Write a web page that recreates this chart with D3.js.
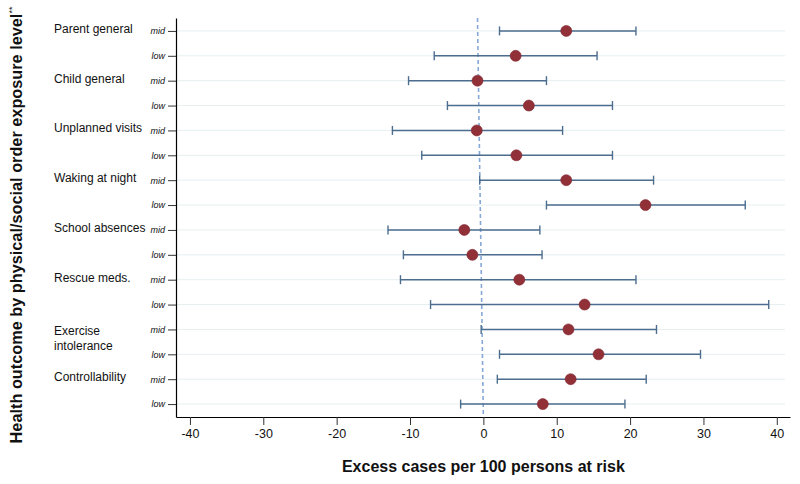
<!DOCTYPE html>
<html>
<head>
<meta charset="utf-8">
<script src="https://cdn.jsdelivr.net/npm/d3@7"></script>
<style>
  body { margin: 0; background: #fff; }
  svg { display: block; font-family: "Liberation Sans", Arial, sans-serif; }
</style>
</head>
<body>
<svg id="chart" width="800" height="484"></svg>
<script>
// ---- data ----
const outcomes = ["Parent general", "Child general", "Unplanned visits", "Waking at night",
                  "School absences", "Rescue meds.", "Exercise intolerance", "Controllability"];
const levels = ["mid", "low"];
const estimates = [11.3, 4.4, -0.8, 6.2, -0.9, 4.5, 11.3, 22.1, -2.6, -1.5, 4.9, 13.8, 11.6, 15.7, 11.9, 8.1];
const lowerCI   = [2.2, -6.7, -10.2, -4.9, -12.4, -8.4, -0.5, 8.6, -13.0, -10.9, -11.3, -7.2, -0.3, 2.2, 1.9, -3.1];
const upperCI   = [20.8, 15.5, 8.6, 17.6, 10.8, 17.6, 23.2, 35.7, 7.7, 8.0, 20.8, 38.9, 23.6, 29.6, 22.2, 19.3];
const xTicks = [-40, -30, -20, -10, 0, 10, 20, 30, 40];
const refLine = [-0.8, 0]; // reference line value at top and bottom of plot
const xDomain = [-41.9, 41.8];

// ---- layout ----
const svg = d3.select("#chart");
const mLeft = 176, mRight = 790, mTop = 18, mBottom = 417;

const rows = [];
outcomes.forEach((o, i) => levels.forEach((l, j) => rows.push({
  id: i * 2 + j, outcome: o, level: l,
  est: estimates[i * 2 + j], lo: lowerCI[i * 2 + j], hi: upperCI[i * 2 + j]
})));

const x = d3.scaleLinear().domain(xDomain).range([mLeft, mRight]);
const y = d3.scalePoint().domain(rows.map(r => r.id)).range([mTop, mBottom]).padding(0.52);

// gridlines
svg.append("g").selectAll("line").data(rows).join("line")
  .attr("x1", mLeft).attr("x2", mRight - 5)
  .attr("y1", d => y(d.id)).attr("y2", d => y(d.id))
  .attr("stroke", "#e6eff1").attr("stroke-width", 1);

// reference line (dashed)
svg.append("line")
  .attr("x1", x(refLine[0])).attr("x2", x(refLine[1]))
  .attr("y1", mTop).attr("y2", mBottom)
  .attr("stroke", "#86a8d6").attr("stroke-width", 1.6)
  .attr("stroke-dasharray", "4,3");

// x axis
const xAxis = svg.append("g").attr("transform", `translate(0,${mBottom})`)
  .call(d3.axisBottom(x).tickValues(xTicks).tickFormat(d => String(d))
    .tickSize(8).tickSizeOuter(0).tickPadding(4));
xAxis.select(".domain").attr("stroke", "#000").attr("stroke-width", 1.2);
xAxis.selectAll(".tick line").attr("stroke", "#333");
xAxis.selectAll("text").attr("font-size", 12.5).attr("fill", "#111")
  .attr("font-family", "'Liberation Sans Narrow', 'Liberation Sans', Arial, sans-serif");

// y axis
const yAxis = svg.append("g").attr("transform", `translate(${mLeft},0)`)
  .call(d3.axisLeft(y).tickSize(8).tickSizeOuter(0).tickPadding(3)
    .tickFormat(id => rows[id].level));
yAxis.select(".domain").attr("stroke", "#000").attr("stroke-width", 1.2);
yAxis.selectAll(".tick line").attr("stroke", "#333");
yAxis.selectAll("text").attr("font-size", 9).attr("font-style", "italic").attr("fill", "#111");

// CI lines
const ci = svg.append("g").selectAll("g").data(rows).join("g");
const ciColor = "#4d6d8e";
ci.append("line")
  .attr("x1", d => x(d.lo)).attr("x2", d => x(d.hi))
  .attr("y1", d => y(d.id)).attr("y2", d => y(d.id))
  .attr("stroke", ciColor).attr("stroke-width", 1.4);
ci.append("line")
  .attr("x1", d => x(d.lo)).attr("x2", d => x(d.lo))
  .attr("y1", d => y(d.id) - 4.5).attr("y2", d => y(d.id) + 4.5)
  .attr("stroke", ciColor).attr("stroke-width", 1.4);
ci.append("line")
  .attr("x1", d => x(d.hi)).attr("x2", d => x(d.hi))
  .attr("y1", d => y(d.id) - 4.5).attr("y2", d => y(d.id) + 4.5)
  .attr("stroke", ciColor).attr("stroke-width", 1.4);

// points
svg.append("g").selectAll("circle").data(rows).join("circle")
  .attr("cx", d => x(d.est)).attr("cy", d => y(d.id)).attr("r", 5.5)
  .attr("fill", "#923038").attr("stroke", "#7d2530").attr("stroke-width", 0.6);

// outcome group labels
const grp = svg.append("g");
outcomes.forEach((o, i) => {
  const yy = y(i * 2);
  const words = o === "Exercise intolerance" ? ["Exercise", "intolerance"] : [o];
  const t = grp.append("text").attr("x", 54).attr("y", yy + (words.length > 1 ? 3 : -1))
    .attr("font-size", 12).attr("fill", "#111").attr("dominant-baseline", "middle");
  words.forEach((w, k) => t.append("tspan").attr("x", 54).attr("dy", k === 0 ? 0 : 15).text(w));
});

// axis titles
svg.append("text").attr("x", (x(0))).attr("y", 472).attr("text-anchor", "middle")
  .attr("font-size", 16).attr("font-weight", "bold").attr("fill", "#111")
  .text("Excess cases per 100 persons at risk");

const yt = svg.append("text")
  .attr("transform", `translate(22,${225}) rotate(-90)`)
  .attr("text-anchor", "middle").attr("font-size", 16.3).attr("font-weight", "bold").attr("fill", "#111");
yt.append("tspan").text("Health outcome by physical/social order exposure level");
yt.append("tspan").attr("font-size", 9).attr("font-weight", "normal").attr("dy", -7).text("**");
</script>
</body>
</html>
